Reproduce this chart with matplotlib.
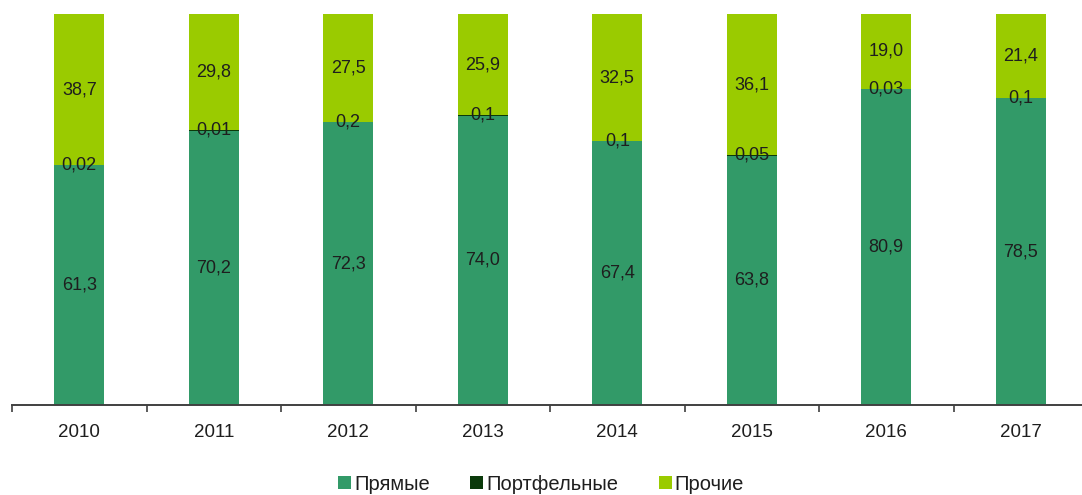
import numpy as np
import matplotlib.pyplot as plt

plt.rcParams['font.family'] = ['Liberation Sans', 'DejaVu Sans']

years = ['2010', '2011', '2012', '2013', '2014', '2015', '2016', '2017']
direct = [61.3, 70.2, 72.3, 74.0, 67.4, 63.8, 80.9, 78.5]
portfolio = [0.02, 0.01, 0.2, 0.1, 0.1, 0.05, 0.03, 0.1]
other = [38.7, 29.8, 27.5, 25.9, 32.5, 36.1, 19.0, 21.4]

direct_lbl = ['61,3', '70,2', '72,3', '74,0', '67,4', '63,8', '80,9', '78,5']
portfolio_lbl = ['0,02', '0,01', '0,2', '0,1', '0,1', '0,05', '0,03', '0,1']
other_lbl = ['38,7', '29,8', '27,5', '25,9', '32,5', '36,1', '19,0', '21,4']

c_direct = '#329a68'
c_port = '#0b3a0b'
c_other = '#9acb00'
txt = '#1e1e1e'

fig = plt.figure(figsize=(10.82, 4.95), dpi=100)
ax = fig.add_axes([12 / 1082, 90 / 495, 8 * 134.5 / 1082, 391 / 495])

x = np.arange(len(years))
d = np.array(direct)
p = np.array(portfolio)
o = np.array(other)
w = 0.37

ax.bar(x, d, w, color=c_direct, label='Прямые')
ax.bar(x, p, w, bottom=d, color=c_port, label='Портфельные')
ax.bar(x, o, w, bottom=d + p, color=c_other, label='Прочие')

for i in range(len(years)):
    ax.text(x[i], d[i] / 2, direct_lbl[i], ha='center', va='center', fontsize=13, color=txt)
    ax.text(x[i], d[i] + p[i], portfolio_lbl[i], ha='center', va='center', fontsize=13, color=txt)
    ax.text(x[i], d[i] + p[i] + o[i] / 2, other_lbl[i], ha='center', va='center', fontsize=13, color=txt)

ax.set_xlim(-0.5, len(years) - 0.5)
ax.set_ylim(0, 100)
ax.set_yticks([])
ax.set_xticks(x)
ax.set_xticklabels(years, fontsize=13.5, color=txt)
ax.set_xticks(np.arange(len(years) + 1) - 0.5, minor=True)
ax.tick_params(axis='x', which='major', length=0, pad=14)
ax.tick_params(axis='x', which='minor', length=5, width=1.2, color='#404040', direction='out')
for s in ['top', 'right', 'left']:
    ax.spines[s].set_visible(False)
ax.spines['bottom'].set_color('#404040')
ax.spines['bottom'].set_linewidth(1.4)

fig.legend(loc='center', bbox_to_anchor=(0.5, 11 / 495), ncol=3, frameon=False,
           fontsize=14.5, handlelength=0.65, handleheight=0.65, handletextpad=0.15,
           columnspacing=2.0, labelcolor=txt)

fig.savefig('out.png', dpi=100)
